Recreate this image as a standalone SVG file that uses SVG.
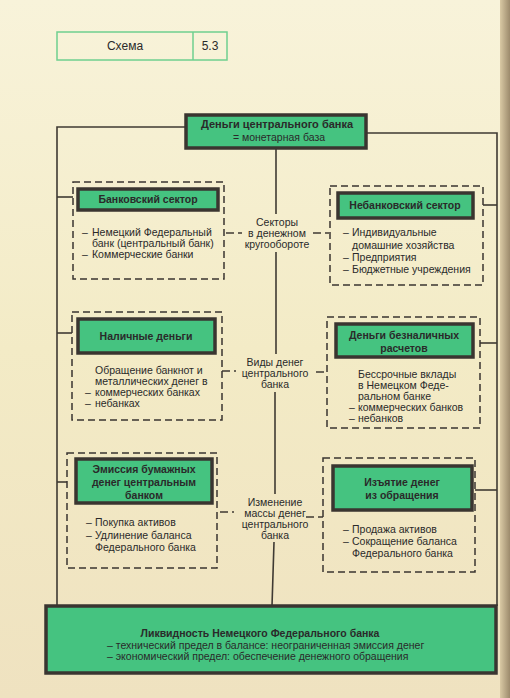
<svg xmlns="http://www.w3.org/2000/svg" width="510" height="698" viewBox="0 0 510 698">
<defs>
<linearGradient id="bg" x1="0" y1="0" x2="0" y2="1">
<stop offset="0" stop-color="#f8f3da"/>
<stop offset="0.5" stop-color="#f3ebc6"/>
<stop offset="1" stop-color="#efe2c0"/>
</linearGradient>
<linearGradient id="edge" x1="0" y1="0" x2="1" y2="0">
<stop offset="0" stop-color="#d9c9a4"/>
<stop offset="1" stop-color="#9c8a6c"/>
</linearGradient>
</defs>
<style>
text{font-family:"Liberation Sans",Arial,sans-serif;fill:#2a2a2a}
.t{font-size:10.5px}
.c{text-anchor:middle}
.b{font-weight:bold;font-size:10.5px}
.g{fill:#45c380;stroke:#3a3530;stroke-width:3.5}
.d{fill:none;stroke:#3a3530;stroke-width:1.5;stroke-dasharray:7 4}
.l{fill:none;stroke:#3f3a33;stroke-width:1.6}
.ld{fill:none;stroke:#3f3a33;stroke-width:1.5;stroke-dasharray:8 4}
</style>
<rect x="0" y="0" width="510" height="698" fill="url(#bg)"/>
<rect x="500" y="0" width="10" height="698" fill="url(#edge)"/>

<g id="header">
<rect x="57" y="32" width="170" height="28" fill="none" stroke="#6fcf8f" stroke-width="1.5"/>
<line x1="193" y1="32" x2="193" y2="60" stroke="#6fcf8f" stroke-width="1.5"/>
<text class="t c" x="125" y="50" style="font-size:12px">Схема</text>
<text class="t c" x="210" y="50" style="font-size:12px">5.3</text>
</g>

<g id="connectors">
<polyline class="l" points="186,127 57,127 57,606"/>
<polyline class="l" points="366,133 497,133 497,606"/>
<line class="l" x1="276" y1="148" x2="276" y2="214"/>
<line class="l" x1="276" y1="252" x2="276" y2="354"/>
<line class="l" x1="275" y1="392" x2="275" y2="494"/>
<line class="l" x1="274" y1="542" x2="272" y2="606"/>
<line class="l" x1="57" y1="197" x2="73" y2="197"/>
<line class="l" x1="57" y1="333" x2="72" y2="333"/>
<line class="l" x1="57" y1="482" x2="67" y2="482"/>
<line class="l" x1="483" y1="205" x2="497" y2="205"/>
<line class="l" x1="480" y1="343" x2="497" y2="343"/>
<line class="l" x1="475" y1="490" x2="497" y2="490"/>
<line class="ld" x1="226" y1="233" x2="242" y2="233"/>
<line class="ld" x1="313" y1="233" x2="329" y2="233"/>
<line class="ld" x1="222" y1="371" x2="236" y2="371"/>
<line class="ld" x1="316" y1="372" x2="327" y2="372"/>
<line class="ld" x1="220" y1="512" x2="234" y2="512"/>
<line class="ld" x1="306" y1="517" x2="323" y2="517"/>
</g>

<g id="central-money">
<rect class="g" x="186" y="115" width="180" height="33"/>
<text class="b c" x="277" y="128" style="font-size:11px">Деньги центрального банка</text>
<text class="t c" x="279" y="141">= монетарная база</text>
</g>

<g id="label-sectors">
<text class="t c" x="277" y="226">Секторы</text>
<text class="t c" x="277" y="237">в денежном</text>
<text class="t c" x="277" y="248">кругообороте</text>
</g>
<g id="label-kinds">
<text class="t c" x="275" y="366">Виды денег</text>
<text class="t c" x="275" y="377">центрального</text>
<text class="t c" x="275" y="388">банка</text>
</g>
<g id="label-change">
<text class="t c" x="275" y="506">Изменение</text>
<text class="t c" x="275" y="517">массы денег</text>
<text class="t c" x="275" y="528">центрального</text>
<text class="t c" x="275" y="539">банка</text>
</g>

<g id="banking-sector">
<rect class="d" x="73" y="182" width="151" height="97"/>
<rect class="g" x="78" y="189" width="140" height="21"/>
<text class="b c" x="148" y="203">Банковский сектор</text>
<text class="t" x="82" y="236">–</text>
<text class="t" x="92" y="236">Немецкий Федеральный</text>
<text class="t" x="92" y="247">банк (центральный банк)</text>
<text class="t" x="82" y="258">–</text>
<text class="t" x="92" y="258">Коммерческие банки</text>
</g>

<g id="nonbanking-sector">
<rect class="d" x="330" y="186" width="153" height="99"/>
<rect class="g" x="338" y="193" width="135" height="25"/>
<text class="b c" x="405" y="209">Небанковский сектор</text>
<text class="t" x="343" y="236">–</text>
<text class="t" x="352" y="236">Индивидуальные</text>
<text class="t" x="352" y="249">домашние хозяйства</text>
<text class="t" x="343" y="261">–</text>
<text class="t" x="352" y="261">Предприятия</text>
<text class="t" x="343" y="273">–</text>
<text class="t" x="352" y="273">Бюджетные учреждения</text>
</g>

<g id="cash">
<rect class="d" x="72" y="312" width="150" height="108"/>
<rect class="g" x="78" y="319" width="137" height="34"/>
<text class="b c" x="146" y="340">Наличные деньги</text>
<text class="t" x="95" y="374">Обращение банкнот и</text>
<text class="t" x="95" y="385">металлических денег в</text>
<text class="t" x="85" y="396">–</text>
<text class="t" x="95" y="396">коммерческих банках</text>
<text class="t" x="85" y="407">–</text>
<text class="t" x="95" y="407">небанках</text>
</g>

<g id="non-cash">
<rect class="d" x="327" y="317" width="153" height="111"/>
<rect class="g" x="336" y="324" width="137" height="33"/>
<text class="b c" x="404" y="339">Деньги безналичных</text>
<text class="b c" x="404" y="352">расчетов</text>
<text class="t" x="358" y="378">Бессрочные вклады</text>
<text class="t" x="358" y="389">в Немецком Феде-</text>
<text class="t" x="358" y="400">ральном банке</text>
<text class="t" x="349" y="411">–</text>
<text class="t" x="358" y="411">коммерческих банков</text>
<text class="t" x="349" y="422">–</text>
<text class="t" x="358" y="422">небанков</text>
</g>

<g id="emission">
<rect class="d" x="67" y="453" width="150" height="115"/>
<rect class="g" x="76" y="459" width="136" height="44"/>
<text class="b c" x="144" y="473">Эмиссия бумажных</text>
<text class="b c" x="144" y="486">денег центральным</text>
<text class="b c" x="144" y="499">банком</text>
<text class="t" x="86" y="526">–</text>
<text class="t" x="95" y="526">Покупка активов</text>
<text class="t" x="86" y="539">–</text>
<text class="t" x="95" y="539">Удлинение баланса</text>
<text class="t" x="95" y="551">Федерального банка</text>
</g>

<g id="withdrawal">
<rect class="d" x="323" y="458" width="152" height="114"/>
<rect class="g" x="333" y="466" width="139" height="44"/>
<text class="b c" x="402" y="486">Изъятие денег</text>
<text class="b c" x="402" y="499">из обращения</text>
<text class="t" x="343" y="533">–</text>
<text class="t" x="352" y="533">Продажа активов</text>
<text class="t" x="343" y="545">–</text>
<text class="t" x="352" y="545">Сокращение баланса</text>
<text class="t" x="352" y="557">Федерального банка</text>
</g>

<g id="liquidity">
<rect class="g" x="46" y="606" width="450" height="67"/>
<text class="b c" x="260" y="637">Ликвидность Немецкого Федерального банка</text>
<text class="t" x="107" y="649">– технический предел в балансе: неограниченная эмиссия денег</text>
<text class="t" x="107" y="660">– экономический предел: обеспечение денежного обращения</text>
</g>
</svg>
